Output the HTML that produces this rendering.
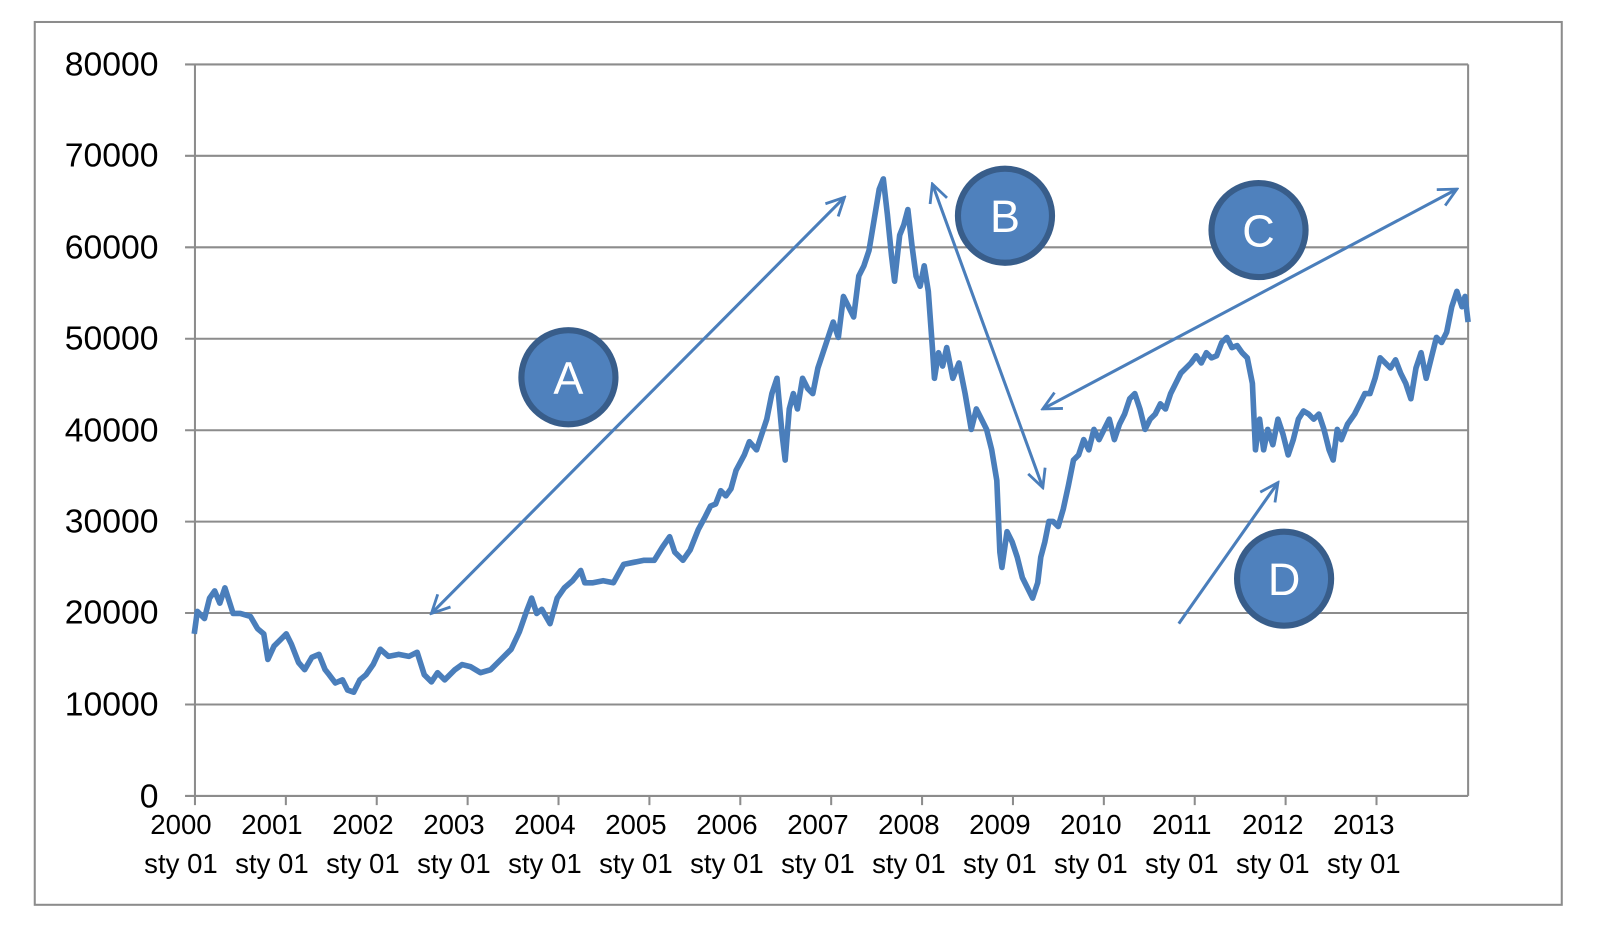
<!DOCTYPE html>
<html><head><meta charset="utf-8"><style>html,body{margin:0;padding:0;background:#fff}svg{display:block}</style></head>
<body>
<svg width="1600" height="932" viewBox="0 0 1565 911.6" xmlns="http://www.w3.org/2000/svg" font-family="Liberation Sans, sans-serif">
<defs>
<marker id="ah" viewBox="0 0 20 20" refX="18" refY="10" markerWidth="22" markerHeight="22" markerUnits="userSpaceOnUse" orient="auto-start-reverse">
<path d="M2,2 L18,10 L2,18" fill="none" stroke="#4A7EBB" stroke-width="2.5"/>
</marker>
</defs>
<rect x="34" y="21.5" width="1493.6" height="863.5" fill="#fff" stroke="#8c8c8c" stroke-width="2"/>
<g stroke="#8c8c8c" stroke-width="2">
<line x1="181" y1="63" x2="1436" y2="63"/>
<line x1="181" y1="152.4" x2="1436" y2="152.4"/>
<line x1="181" y1="241.9" x2="1436" y2="241.9"/>
<line x1="181" y1="331.3" x2="1436" y2="331.3"/>
<line x1="181" y1="420.8" x2="1436" y2="420.8"/>
<line x1="181" y1="510.2" x2="1436" y2="510.2"/>
<line x1="181" y1="599.6" x2="1436" y2="599.6"/>
<line x1="181" y1="689.1" x2="1436" y2="689.1"/>
<line x1="181" y1="778.5" x2="1436" y2="778.5"/>
<line x1="190.7" y1="63" x2="190.7" y2="778.5"/>
<line x1="1436" y1="63" x2="1436" y2="778.5"/>
<path d="M190.7,778.5v9M279.6,778.5v9M368.5,778.5v9M457.4,778.5v9M546.3,778.5v9M635.2,778.5v9M724.1,778.5v9M813,778.5v9M901.9,778.5v9M990.8,778.5v9M1079.7,778.5v9M1168.6,778.5v9M1257.5,778.5v9M1346.4,778.5v9"/>
</g>
<g font-size="33" text-anchor="end" fill="#000">
<text x="155" y="74">80000</text><text x="155" y="163">70000</text><text x="155" y="253">60000</text><text x="155" y="342">50000</text><text x="155" y="432">40000</text><text x="155" y="521">30000</text><text x="155" y="610">20000</text><text x="155" y="700">10000</text><text x="155" y="790">0</text>
</g>
<g font-size="27" text-anchor="middle" fill="#000">
<text x="177" y="816">2000</text><text x="177" y="854">sty 01</text>
<text x="266" y="816">2001</text><text x="266" y="854">sty 01</text>
<text x="355" y="816">2002</text><text x="355" y="854">sty 01</text>
<text x="444" y="816">2003</text><text x="444" y="854">sty 01</text>
<text x="533" y="816">2004</text><text x="533" y="854">sty 01</text>
<text x="622" y="816">2005</text><text x="622" y="854">sty 01</text>
<text x="711" y="816">2006</text><text x="711" y="854">sty 01</text>
<text x="800" y="816">2007</text><text x="800" y="854">sty 01</text>
<text x="889" y="816">2008</text><text x="889" y="854">sty 01</text>
<text x="978" y="816">2009</text><text x="978" y="854">sty 01</text>
<text x="1067" y="816">2010</text><text x="1067" y="854">sty 01</text>
<text x="1156" y="816">2011</text><text x="1156" y="854">sty 01</text>
<text x="1245" y="816">2012</text><text x="1245" y="854">sty 01</text>
<text x="1334" y="816">2013</text><text x="1334" y="854">sty 01</text>
</g>
<polyline fill="none" stroke="#4A7EBB" stroke-width="5.5" stroke-linejoin="round" points="190,620 193,598 200,605 205,585 210,578 215,590 220,575 228,600 235,600 245,603 252,615 258,620 262,645 268,632 275,625 280,620 285,630 292,648 298,655 305,643 312,640 318,655 322,660 328,668 335,665 340,675 346,677 352,665 358,660 365,650 372,635 380,642 390,640 400,642 408,638 415,660 422,667 428,658 435,665 445,655 452,650 460,652 470,658 480,655 490,645 500,635 508,618 515,598 520,585 525,600 530,596 538,610 545,585 552,575 560,568 568,558 572,570 580,570 590,568 600,570 610,552 620,550 630,548 640,548 648,535 655,525 660,540 668,548 675,538 683,518 690,505 695,495 700,493 705,480 710,485 715,478 720,460 728,445 733,432 740,440 745,425 750,410 755,385 760,370 765,425 768,450 772,400 776,385 780,400 785,370 790,380 795,385 800,360 805,345 810,330 815,315 820,330 825,290 830,300 835,310 840,270 845,260 850,245 855,215 860,185 864,175 868,210 872,250 875,275 880,230 884,220 888,205 892,240 896,270 900,280 904,260 908,285 912,340 914,370 918,345 922,358 926,340 932,370 938,355 944,385 950,420 955,400 960,410 965,420 970,440 975,470 978,540 980,555 985,520 990,530 995,545 1000,565 1005,575 1010,585 1015,570 1018,545 1022,530 1026,510 1030,510 1035,515 1040,498 1045,475 1050,450 1055,445 1060,430 1065,440 1070,420 1075,430 1080,420 1085,410 1090,430 1095,415 1100,405 1105,390 1110,385 1115,400 1120,420 1125,410 1130,405 1135,395 1140,400 1145,385 1150,375 1155,365 1160,360 1165,355 1170,348 1175,355 1180,345 1185,350 1190,348 1195,335 1200,330 1205,340 1210,338 1215,345 1220,350 1225,375 1228,440 1232,410 1236,440 1240,420 1245,435 1250,410 1255,425 1260,445 1265,430 1270,410 1275,402 1280,405 1285,410 1290,405 1295,420 1300,440 1304,450 1308,420 1312,430 1318,415 1325,405 1330,395 1335,385 1340,385 1345,370 1350,350 1355,355 1360,360 1365,352 1370,365 1375,375 1380,390 1385,360 1390,345 1395,370 1400,350 1405,330 1410,335 1415,325 1420,300 1425,285 1430,300 1433,290 1436,315"/>
<g stroke="#4A7EBB" stroke-width="3" fill="none">
<line x1="422" y1="600" x2="826" y2="193" marker-start="url(#ah)" marker-end="url(#ah)"/>
<line x1="912" y1="180" x2="1020" y2="477" marker-start="url(#ah)" marker-end="url(#ah)"/>
<line x1="1020" y1="400" x2="1425" y2="185" marker-start="url(#ah)" marker-end="url(#ah)"/>
<line x1="1153" y1="610" x2="1250" y2="472" marker-end="url(#ah)"/>
</g>
<g fill="#4F81BD" stroke="#385D8A" stroke-width="6">
<circle cx="556" cy="369" r="46"/><circle cx="983" cy="211" r="46"/><circle cx="1231" cy="225" r="46"/><circle cx="1256" cy="566" r="46"/>
</g>
<g fill="#fff" font-size="44" text-anchor="middle">
<text x="556" y="385">A</text><text x="983" y="227">B</text><text x="1231" y="241">C</text><text x="1256" y="582">D</text>
</g>
</svg>
</body></html>
